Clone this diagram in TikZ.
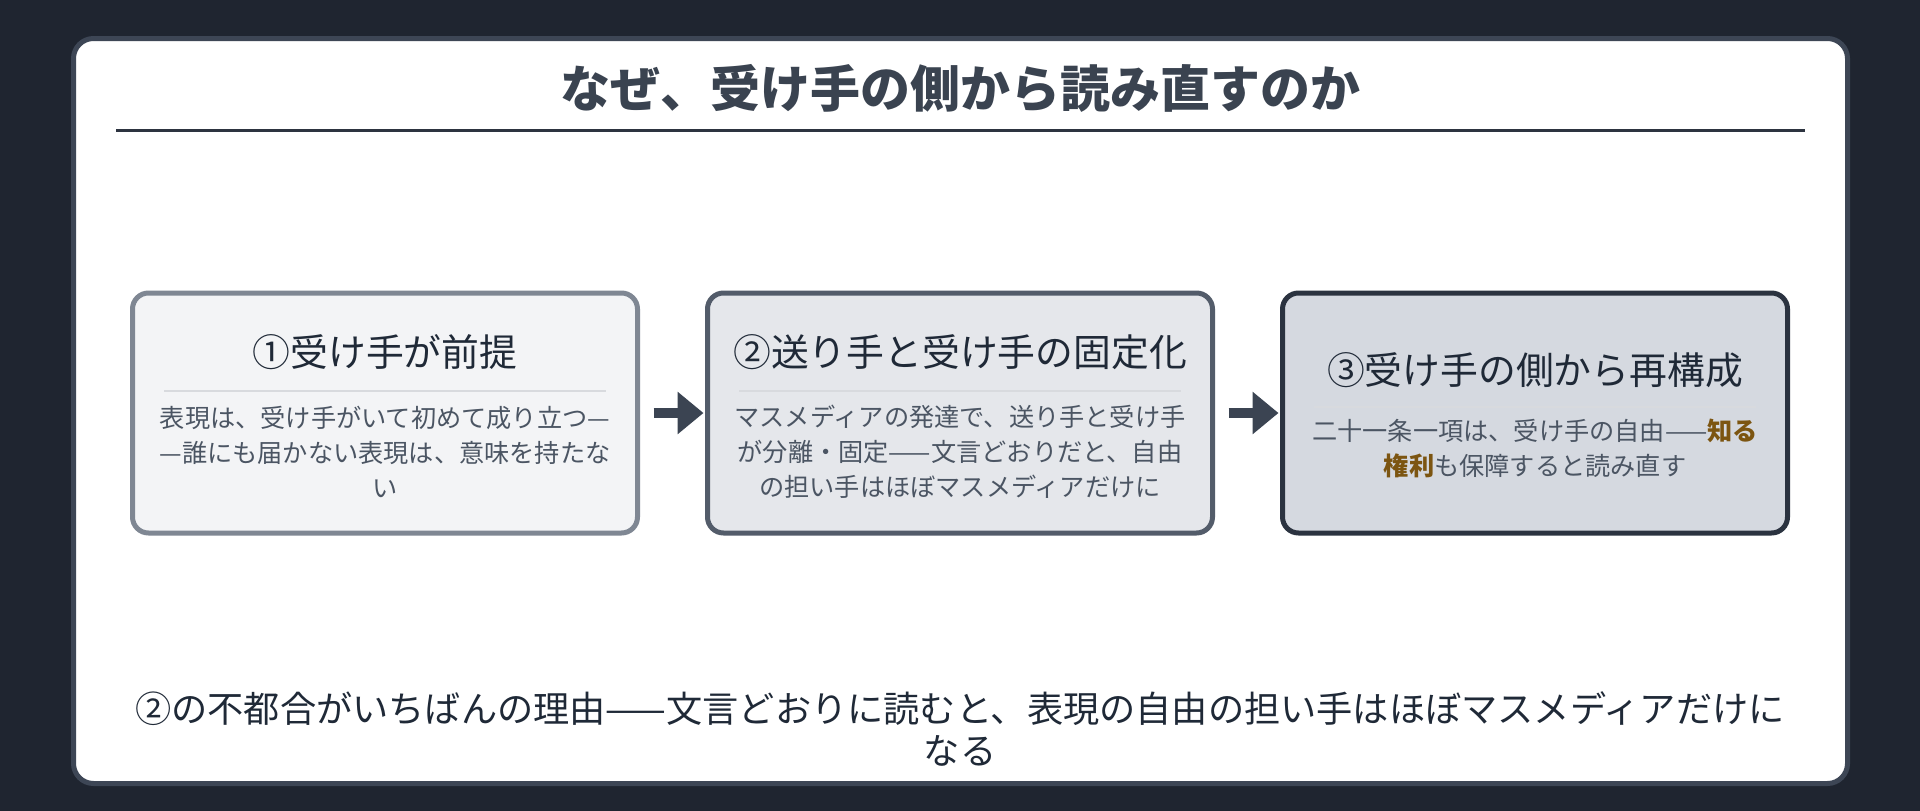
\documentclass[tikz,border=0pt]{standalone}
\usepackage{fontspec}
\setmainfont{Noto Sans CJK JP}
\usetikzlibrary{arrows.meta}
\usetikzlibrary{positioning}
\definecolor{bgdark}{HTML}{1F2530}
\definecolor{panelline}{HTML}{3D4655}
\definecolor{titleink}{HTML}{3A4350}
\definecolor{ruleink}{HTML}{2D3440}
\definecolor{fillone}{HTML}{F3F4F6}
\definecolor{lineone}{HTML}{7F8793}
\definecolor{filltwo}{HTML}{E5E7EB}
\definecolor{linetwo}{HTML}{535C6A}
\definecolor{fillthree}{HTML}{D5D9E0}
\definecolor{linethree}{HTML}{2B3340}
\definecolor{sepgray}{HTML}{D8DADE}
\definecolor{ink}{HTML}{1F2937}
\definecolor{slate}{HTML}{4B5563}
\definecolor{gold}{HTML}{7C5511}
\definecolor{arrowink}{HTML}{3B4452}
\tikzset{
    panel/.style={draw=panelline, fill=white, line width=5pt, rounded corners=20pt},
    stage/.style={line width=5pt, rounded corners=16pt,
        minimum width=505pt, minimum height=240pt},
    stagetitle/.style={text=ink, font=\fontsize{37.8}{42}\selectfont},
    stagebody/.style={text=slate, align=center, font=\fontsize{25.2}{35}\selectfont},
    sepline/.style={draw=sepgray, line width=2.5pt},
    flow/.style={draw=arrowink, line width=10pt,
        -{Triangle[length=26pt,width=41pt]}, shorten <=13.5pt, shorten >=1.5pt}
}
\newcommand{\keyword}[1]{\textcolor{gold}{\bfseries #1}}

\begin{document}
\begin{tikzpicture}[x=1pt,y=-1pt]
\fill[bgdark] (0,0) rectangle (1920,811);
\useasboundingbox (0,0) rectangle (1920,811);
\draw[panel] (73.5,38.5) rectangle (1847.5,783.5);

% title
\node[text=titleink, font=\fontsize{50}{56}\selectfont\bfseries] (head) at (960,88)
  {なぜ、受け手の側から読み直すのか};
\draw[draw=ruleink, line width=3pt] (116,130) -- (1805,130);

% the three stages
\node[stage, draw=lineone, fill=fillone] (b1) at (385,413) {};
\node[stage, draw=linetwo, fill=filltwo] (b2) at (960,413) {};
\node[stage, draw=linethree, fill=fillthree] (b3) at (1535,413) {};

\node[stagetitle] (t1) at (385,352) {①受け手が前提};
\draw[sepline] (164,391) -- (606,391);
\node[stagebody] (d1) at (385,452)
  {表現は、受け手がいて初めて成り立つ—\\—誰にも届かない表現は、意味を持たな\\い};

\node[stagetitle] (t2) at (960,352) {②送り手と受け手の固定化};
\draw[sepline] (739,391) -- (1181,391);
\node[stagebody] (d2) at (960,452)
  {マスメディアの発達で、送り手と受け手\\が分離・固定——文言どおりだと、自由\\の担い手はほぼマスメディアだけに};

\node[stagetitle] (t3) at (1535,370) {③受け手の側から再構成};
\draw[sepline] (1314,407) -- (1756,407);
\node[stagebody] (d3) at (1535,448)
  {二十一条一項は、受け手の自由——\keyword{知る}\\\keyword{権利}も保障すると読み直す};

\draw[flow] (b1) -- (b2);
\draw[flow] (b2) -- (b3);

% conclusion
\node[text=ink, align=center, font=\fontsize{36.2}{42}\selectfont] (concl) at (960,729)
  {②の不都合がいちばんの理由——文言どおりに読むと、表現の自由の担い手はほぼマスメディアだけに\\なる};
\end{tikzpicture}
\end{document}
